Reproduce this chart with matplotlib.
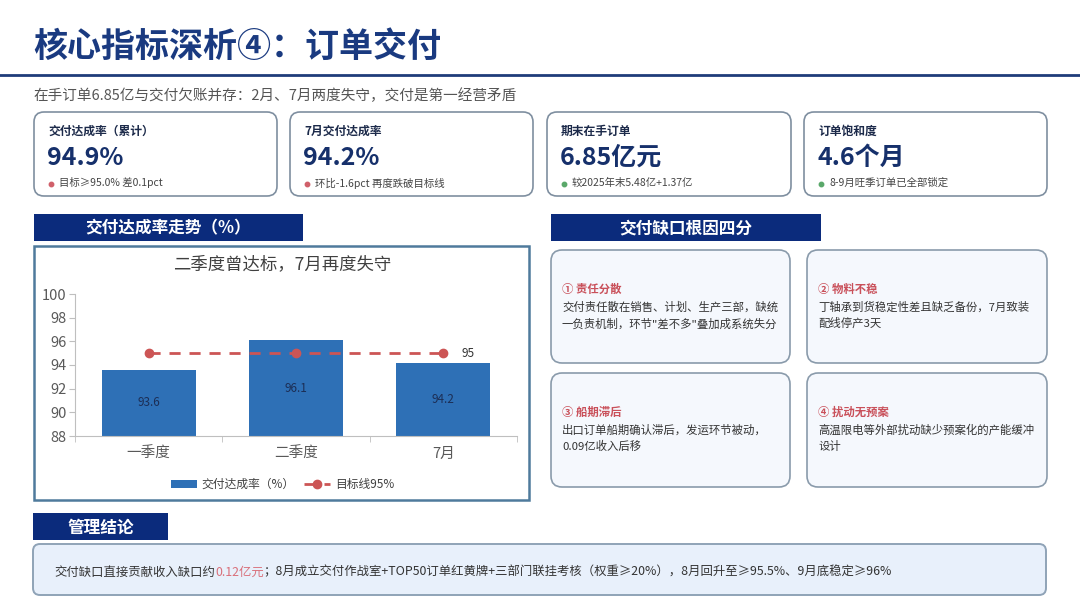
import matplotlib
matplotlib.use("Agg")
import matplotlib.pyplot as plt
from matplotlib.patches import FancyBboxPatch, Rectangle

plt.rcParams['font.family'] = ['Noto Sans CJK SC', 'DejaVu Sans']

# ---- data ----
categories = ['一季度', '二季度', '7月']
rates = [93.6, 96.1, 94.2]
target = [95, 95, 95]
y_ticks = [88, 90, 92, 94, 96, 98, 100]

kpi_labels = ['交付达成率（累计）', '7月交付达成率', '期末在手订单', '订单饱和度']
kpi_values = ['94.9%', '94.2%', '6.85亿元', '4.6个月']
kpi_notes = ['目标≥95.0% 差0.1pct', '环比-1.6pct 再度跌破目标线',
             '较2025年末5.48亿+1.37亿', '8-9月旺季订单已全部锁定']
kpi_dot = ['#d0606a', '#d0606a', '#5aa86a', '#5aa86a']

cause_titles = ['① 责任分散', '② 物料不稳', '③ 船期滞后', '④ 扰动无预案']
cause_texts = [
    '交付责任散在销售、计划、生产三部，缺统\n一负责机制，环节"差不多"叠加成系统失分',
    '丁轴承到货稳定性差且缺乏备份，7月致装\n配线停产3天',
    '出口订单船期确认滞后，发运环节被动，\n0.09亿收入后移',
    '高温限电等外部扰动缺少预案化的产能缓冲\n设计',
]

NAVY = '#0b2b7c'
TITLE = '#1a3a80'
BAR = '#2e70b6'
RED = '#cc5555'

fig = plt.figure(figsize=(10.8, 6.08), dpi=100)
bg = fig.add_axes([0, 0, 1, 1])
bg.set_xlim(0, 1080)
bg.set_ylim(608, 0)
bg.axis('off')


def rbox(x0, y0, x1, y1, fc, ec, lw=1.2, r=9):
    bg.add_patch(FancyBboxPatch((x0, y0), x1 - x0, y1 - y0,
                                boxstyle=f'round,pad=0,rounding_size={r}',
                                fc=fc, ec=ec, lw=lw))


def header(x0, y0, x1, y1, txt, size=12):
    bg.add_patch(Rectangle((x0, y0), x1 - x0, y1 - y0, fc=NAVY, ec='none'))
    bg.text((x0 + x1) / 2, (y0 + y1) / 2 + 1, txt, color='white', fontsize=size,
            fontweight='bold', ha='center', va='center')


# title + rule
bg.text(33, 46, '核心指标深析④：订单交付', fontsize=24.5, fontweight='bold',
        color=TITLE, ha='left', va='center')
bg.plot([0, 1080], [75, 75], color='#1f3c7a', lw=2)
bg.text(33, 96, '在手订单6.85亿与交付欠账并存：2月、7月两度失守，交付是第一经营矛盾',
        fontsize=10.5, color='#555555', ha='left', va='center')

# KPI cards
card_x = [(34, 277), (290, 533), (547, 791), (804, 1047)]
for i, (x0, x1) in enumerate(card_x):
    rbox(x0, 112, x1, 196, 'white', '#7f8fa0', lw=1.2, r=10)
    bg.text(x0 + 14, 131, kpi_labels[i], fontsize=8.5, fontweight='bold',
            color='#1c2a4a', ha='left', va='center')
    bg.text(x0 + 13, 158, kpi_values[i], fontsize=18, fontweight='bold',
            color='#16306b', ha='left', va='center')
    bg.plot(x0 + 17, 183.5, 'o', ms=3.2, color=kpi_dot[i])
    bg.text(x0 + 25, 183, kpi_notes[i], fontsize=7.5, color='#444444',
            ha='left', va='center')

# section headers
header(34, 214, 303, 241, '交付达成率走势（%）')
header(551, 214, 821, 241, '交付缺口根因四分')
header(33, 513, 168, 540, '管理结论')

# chart frame
bg.add_patch(Rectangle((34, 246), 495, 254, fc='white', ec='#4f7a9c', lw=1.8))
bg.text(282, 264, '二季度曾达标，7月再度失守', fontsize=12.5, color='#404040',
        ha='center', va='center')

# chart axes
ax = fig.add_axes([75 / 1080, 1 - 436 / 608, 442 / 1080, 142 / 608])
ax.patch.set_alpha(0)
x = list(range(len(categories)))
bar_c = ax.bar(x, [r - 88 for r in rates], bottom=88, width=0.64, color=BAR,
               zorder=2)
for xi, r in zip(x, rates):
    ax.text(xi, (88 + r) / 2, f'{r:.1f}', ha='center', va='center',
            fontsize=8.5, color='#1c2e55', zorder=4)
tline, = ax.plot(x, target, color=RED, ls=(0, (4, 3.2)), lw=2, marker='o',
                 ms=6, zorder=3)
ax.text(x[-1] + 0.12, target[-1], f'{target[-1]}', ha='left', va='center',
        fontsize=8.5, color='#333333')
ax.set_xlim(-0.5, 2.5)
ax.set_ylim(88, 100)
ax.set_yticks(y_ticks)
ax.set_yticklabels([str(v) for v in y_ticks], fontsize=10.5, color='#595959')
ax.set_xticks(x)
ax.set_xticklabels(categories, fontsize=10.5, color='#595959')
ax.set_xticks([-0.5, 0.5, 1.5, 2.5], minor=True)
ax.tick_params(axis='x', which='major', length=0, pad=8)
ax.tick_params(axis='x', which='minor', length=4, color='#bfbfbf')
ax.tick_params(axis='y', length=4, color='#bfbfbf', pad=2)
for s in ['top', 'right']:
    ax.spines[s].set_visible(False)
ax.spines['left'].set_color('#bfbfbf')
ax.spines['bottom'].set_color('#bfbfbf')
ax.legend([bar_c, tline], ['交付达成率（%）', '目标线95%'],
          loc='upper center', bbox_to_anchor=(0.47, -0.22), ncol=2,
          frameon=False, fontsize=8.5, handlelength=2.2, columnspacing=0.8,
          handletextpad=0.4, labelcolor='#404040')

# cause cards
cause_boxes = [(551, 250, 790, 363), (807, 250, 1047, 363),
               (551, 373, 790, 487), (807, 373, 1047, 487)]
for i, (x0, y0, x1, y1) in enumerate(cause_boxes):
    rbox(x0, y0, x1, y1, '#f5f8fd', '#8a9bab', lw=1.2, r=11)
    bg.text(x0 + 11, y0 + 39, cause_titles[i], fontsize=8.2, fontweight='bold',
            color='#c9505a', ha='left', va='center')
    bg.text(x0 + 11, y0 + 51, cause_texts[i], fontsize=8.2, color='#333333',
            ha='left', va='top', linespacing=1.6)

# conclusion
rbox(33, 544, 1046, 595, '#e8f0fb', '#8fa3b7', lw=1.4, r=7)
parts = [('交付缺口直接贡献收入缺口约', '#333333'), ('0.12亿元', '#d9707a'),
         ('；8月成立交付作战室+TOP50订单红黄牌+三部门联挂考核（权重≥20%），8月回升至≥95.5%、9月底稳定≥96%', '#333333')]
fig.canvas.draw()
xpos = 54
for txt, col in parts:
    t = bg.text(xpos, 572, txt, fontsize=8.9, color=col, ha='left', va='center')
    bb = t.get_window_extent(renderer=fig.canvas.get_renderer())
    xpos += bb.width

fig.savefig('out.png', dpi=100)
